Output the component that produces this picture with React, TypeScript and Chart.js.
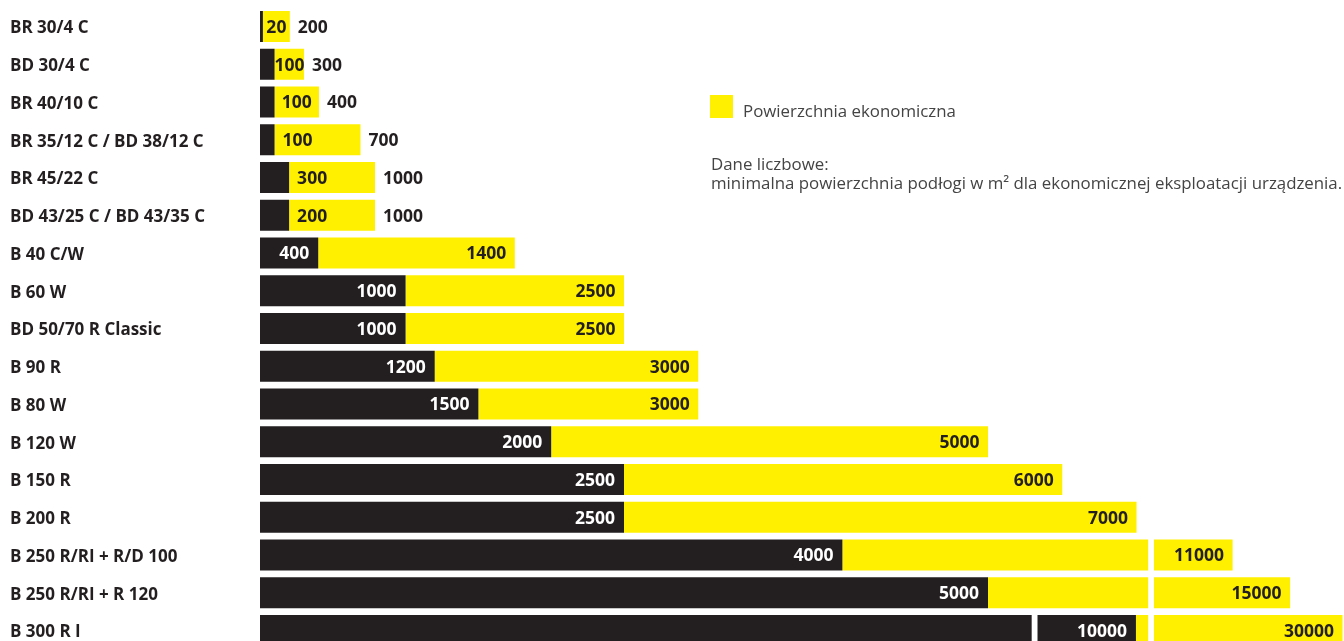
import React, { useEffect, useRef } from "react";
import { Chart, registerables } from "chart.js";

Chart.register(...registerables);

// ---------- data ----------
const categories = [
  "BR 30/4 C",
  "BD 30/4 C",
  "BR 40/10 C",
  "BR 35/12 C / BD 38/12 C",
  "BR 45/22 C",
  "BD 43/25 C / BD 43/35 C",
  "B 40 C/W",
  "B 60 W",
  "BD 50/70 R Classic",
  "B 90 R",
  "B 80 W",
  "B 120 W",
  "B 150 R",
  "B 200 R",
  "B 250 R/RI + R/D 100",
  "B 250 R/RI + R 120",
  "B 300 R I",
];

// printed values (m²)
const minArea = [20, 100, 100, 100, 300, 200, 400, 1000, 1000, 1200, 1500, 2000, 2500, 2500, 4000, 5000, 10000];
const economicArea = [200, 300, 400, 700, 1000, 1000, 1400, 2500, 2500, 3000, 3000, 5000, 6000, 7000, 11000, 15000, 30000];

// bar extents as drawn in the source graphic (it is not to scale and uses axis breaks), same axis units
const minBarDrawn = [20, 100, 100, 100, 200, 200, 400, 1000, 1000, 1200, 1500, 2000, 2500, 2500, 4000, 5000, 5300];
const minBarAfterBreak: ([number, number] | null)[] = [
  null, null, null, null, null, null, null, null, null, null, null, null, null, null, null, null,
  [5340, 6016],
];
const economicBarDrawn = [205, 302, 405, 690, 790, 790, 1750, 2500, 2500, 3010, 3010, 5000, 5510, 6020, 6100, 6100, 6100];
const economicBarAfterBreak: ([number, number] | null)[] = [
  null, null, null, null, null, null, null, null, null, null, null, null, null, null,
  [6140, 6680],
  [6140, 7075],
  [6140, 7435],
];

const X_MAX = 7445;

const legendLabel = "Powierzchnia ekonomiczna";
const noteTitle = "Dane liczbowe:";
const noteText = "minimalna powierzchnia podłogi w m² dla ekonomicznej eksploatacji urządzenia.";

// ---------- styles ----------
const BLACK = "#231f20";
const YELLOW = "#fff000";
const FONT = "'Open Sans', sans-serif";
const LABEL_SIZE = 17.5;
const TICK_SIZE = 17;

const valueLabels = {
  id: "valueLabels",
  afterDatasetsDraw(chart: any) {
    const { ctx } = chart;
    const xs = chart.scales.x;
    const ys = chart.scales.y;
    ctx.save();
    ctx.font = `bold ${LABEL_SIZE}px ${FONT}`;
    ctx.textBaseline = "alphabetic";
    categories.forEach((_, i) => {
      const cy = ys.getPixelForValue(i);
      const base = cy + 6.3;
      const minText = String(minArea[i]);
      const maxText = String(economicArea[i]);
      const x0 = xs.getPixelForValue(0);
      const minMainEnd = xs.getPixelForValue(minBarDrawn[i]);
      const mb = minBarAfterBreak[i];
      const minEnd = mb ? xs.getPixelForValue(mb[1]) : minMainEnd;
      const eb = economicBarAfterBreak[i];
      const ecoEnd = xs.getPixelForValue(eb ? eb[1] : economicBarDrawn[i]);
      const wMin = ctx.measureText(minText).width;
      if (wMin + 16 > minMainEnd - x0) {
        const yellowLen = xs.getPixelForValue(economicBarDrawn[i]) - minMainEnd;
        const off = Math.max(0, Math.min(8, (yellowLen - wMin) / 2));
        ctx.fillStyle = BLACK;
        ctx.textAlign = "left";
        ctx.fillText(minText, minMainEnd + off, base);
        ctx.fillText(maxText, ecoEnd + 8, base);
      } else {
        ctx.fillStyle = "#ffffff";
        ctx.textAlign = "right";
        ctx.fillText(minText, minEnd - 9, base);
        ctx.fillStyle = BLACK;
        ctx.fillText(maxText, ecoEnd - 8.5, base);
      }
    });
    ctx.restore();
  },
};

export default function App() {
  const canvasRef = useRef<HTMLCanvasElement | null>(null);

  useEffect(() => {
    if (!canvasRef.current) return;
    const common = {
      grouped: false,
      barThickness: 31,
      borderWidth: 0,
      inflateAmount: 0,
    };
    const chart = new Chart(canvasRef.current, {
      type: "bar",
      data: {
        labels: categories,
        datasets: [
          {
            ...common,
            label: "Minimalna powierzchnia",
            data: minBarDrawn.map((v) => [0, v]) as any,
            backgroundColor: BLACK,
          },
          {
            ...common,
            label: "Minimalna powierzchnia (ciąg dalszy)",
            data: minBarAfterBreak as any,
            backgroundColor: BLACK,
          },
          {
            ...common,
            label: legendLabel,
            data: economicBarDrawn.map((v, i) => {
              const mb = minBarAfterBreak[i];
              return [mb ? mb[1] : minBarDrawn[i], v];
            }) as any,
            backgroundColor: YELLOW,
          },
          {
            ...common,
            label: legendLabel + " (ciąg dalszy)",
            data: economicBarAfterBreak as any,
            backgroundColor: YELLOW,
          },
        ],
      },
      options: {
        indexAxis: "y",
        animation: false,
        responsive: true,
        maintainAspectRatio: false,
        layout: { padding: { left: 10, top: 7.6, bottom: 10.6, right: 0 } },
        plugins: {
          legend: { display: false },
          tooltip: { enabled: false },
        },
        scales: {
          x: {
            type: "linear",
            min: 0,
            max: X_MAX,
            display: false,
          },
          y: {
            type: "category",
            grid: { display: false },
            border: { display: false },
            ticks: {
              crossAlign: "far",
              color: BLACK,
              font: { family: FONT, weight: "bold", size: TICK_SIZE },
              autoSkip: false,
              labelOffset: 2,
            },
            afterFit: (scale: any) => {
              scale.width = 250;
              scale.paddingTop = 0;
              scale.paddingBottom = 0;
            },
          },
        },
      } as any,
      plugins: [valueLabels],
    });
    return () => chart.destroy();
  }, []);

  return (
    <div
      style={{
        position: "fixed",
        left: 0,
        top: 0,
        width: 1344,
        height: 641,
        overflow: "hidden",
        background: "#ffffff",
        fontFamily: FONT,
      }}
    >
      <div style={{ position: "relative", width: 1344, height: 660 }}>
        <canvas ref={canvasRef} />
      </div>
      <div
        style={{
          position: "absolute",
          left: 710,
          top: 95,
          width: 23,
          height: 23,
          background: YELLOW,
        }}
      />
      <div
        style={{
          position: "absolute",
          left: 743,
          top: 101.4,
          fontSize: 16.85,
          lineHeight: "20px",
          color: "#444444",
          whiteSpace: "nowrap",
        }}
      >
        {legendLabel}
      </div>
      <div
        style={{
          position: "absolute",
          left: 711,
          top: 153.6,
          fontSize: 16.85,
          lineHeight: "19.5px",
          color: "#444444",
          whiteSpace: "nowrap",
        }}
      >
        <div>{noteTitle}</div>
        <div>{noteText}</div>
      </div>
    </div>
  );
}
